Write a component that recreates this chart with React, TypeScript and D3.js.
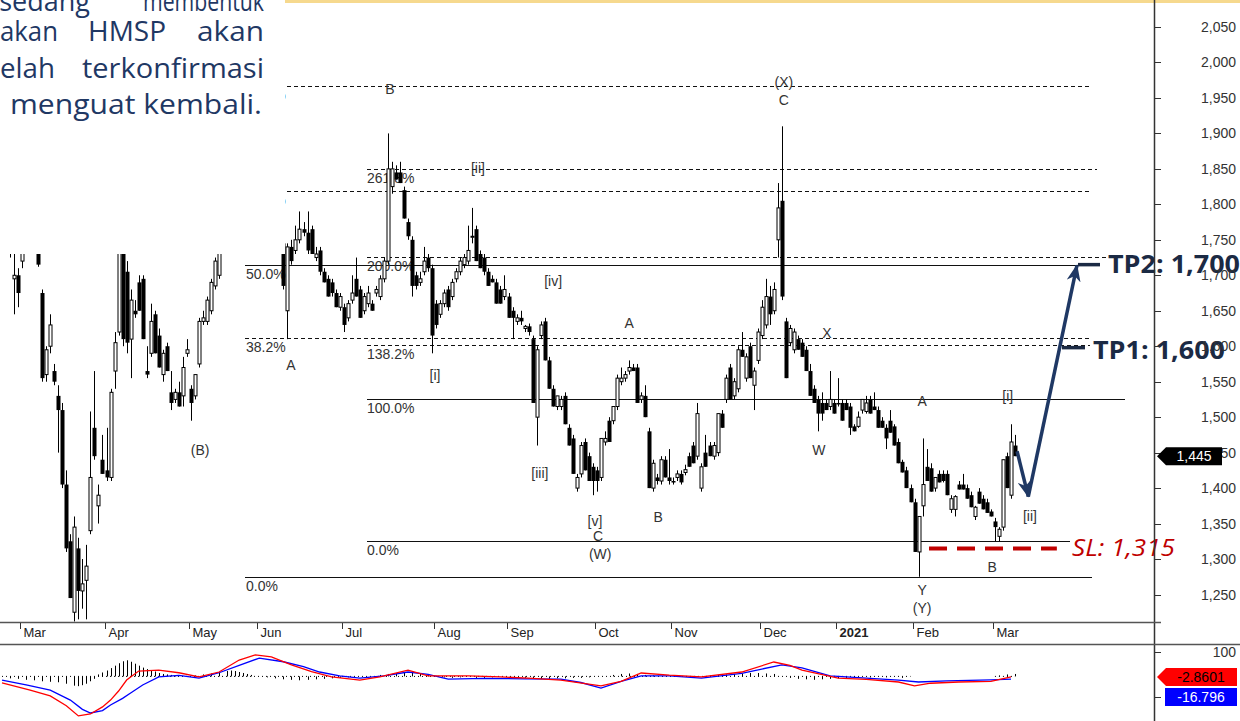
import React from 'react';
import * as d3 from 'd3';

type Bar = [number, number, number, number]; // open, high, low, close

// daily candles, one array per month (first five are the last days of Feb 2020)
const feb20: Bar[] = [
  [1785,1805,1755,1770],[1770,1790,1745,1750],[1750,1780,1725,1765],[1695,1740,1645,1700],[1700,1710,1655,1675],
];
const mar20: Bar[] = [
  [1720,1760,1710,1750],[1750,1790,1740,1780],[1780,1800,1745,1755],[1755,1775,1735,1745],[1745,1750,1712,1715],
  [1675,1680,1550,1555],[1560,1600,1550,1595],[1600,1645,1590,1630],[1565,1575,1545,1550],[1530,1545,1450,1510],
  [1510,1520,1400,1405],[1405,1425,1310,1315],[1325,1335,1245,1245],[1225,1360,1212,1345],[1315,1330,1215,1255],
  [1255,1300,1230,1265],[1270,1320,1215,1290],[1340,1508,1335,1415],[1485,1565,1440,1445],[1375,1405,1350,1390],
  [1440,1475,1420,1420],
];
const apr20: Bar[] = [
  [1425,1485,1410,1415],[1415,1540,1410,1535],[1565,1620,1540,1605],[1620,1760,1615,1740],[1740,1770,1600,1610],
  [1705,1720,1590,1605],[1610,1680,1555,1665],[1650,1665,1640,1645],[1690,1700,1650,1650],[1695,1700,1610,1610],
  [1565,1600,1555,1560],[1590,1660,1585,1635],[1645,1650,1590,1590],[1615,1625,1570,1570],[1560,1595,1550,1590],
  [1600,1605,1565,1565],[1535,1565,1510,1520],[1525,1540,1520,1535],[1535,1550,1515,1515],[1530,1585,1515,1570],
  [1590,1610,1585,1595],
];
const may20: Bar[] = [
  [1540,1545,1495,1520],[1530,1560,1525,1560],[1575,1640,1570,1635],[1635,1650,1630,1640],[1635,1670,1630,1665],
  [1650,1695,1645,1690],[1685,1725,1680,1720],[1700,1745,1695,1740],[1740,1770,1735,1760],[1760,1790,1750,1785],
  [1785,1820,1770,1810],[1810,1840,1795,1800],[1800,1830,1780,1825],[1825,1850,1800,1815],[1815,1835,1790,1795],
  [1795,1825,1780,1820],[1820,1860,1810,1845],
];
const jun20: Bar[] = [
  [1845,1870,1815,1825],[1825,1840,1790,1800],[1800,1820,1775,1810],[1810,1830,1780,1790],[1790,1805,1760,1770],
  [1770,1790,1750,1760],[1745,1750,1680,1685],[1650,1745,1610,1740],[1740,1750,1715,1720],[1735,1770,1730,1750],
  [1750,1790,1745,1765],[1765,1775,1755,1760],[1760,1790,1730,1735],[1765,1770,1730,1730],[1725,1740,1720,1730],
  [1735,1740,1700,1705],[1705,1710,1690,1690],[1695,1700,1670,1670],[1690,1695,1670,1675],[1675,1680,1655,1655],
  [1655,1675,1650,1670],
];
const jul20: Bar[] = [
  [1655,1660,1620,1630],[1640,1665,1635,1660],[1665,1700,1660,1675],[1695,1725,1670,1670],[1680,1685,1640,1640],
  [1650,1675,1645,1670],[1660,1685,1655,1675],[1660,1665,1650,1650],[1675,1685,1670,1680],[1670,1700,1665,1695],
  [1695,1725,1690,1720],[1720,1900,1715,1850],[1825,1860,1815,1850],[1845,1855,1835,1835],[1845,1860,1830,1830],
  [1820,1825,1780,1780],[1775,1780,1750,1755],[1750,1755,1670,1685],[1700,1705,1680,1685],[1690,1705,1685,1695],
  [1705,1740,1700,1720],[1725,1730,1705,1710],[1710,1715,1590,1615],
];
const aug20: Bar[] = [
  [1660,1665,1625,1630],[1645,1665,1640,1660],[1660,1680,1655,1675],[1680,1685,1650,1655],[1670,1695,1665,1690],
  [1695,1710,1690,1705],[1705,1725,1700,1720],[1715,1730,1710,1725],[1720,1770,1715,1735],[1755,1795,1745,1755],
  [1765,1770,1720,1720],[1730,1735,1710,1710],[1725,1730,1700,1705],[1705,1710,1685,1685],[1695,1700,1690,1690],
  [1690,1695,1660,1660],[1680,1685,1660,1660],[1670,1700,1665,1680],
];
const sep20: Bar[] = [
  [1670,1675,1640,1640],[1650,1655,1610,1640],[1635,1645,1630,1640],[1640,1650,1630,1635],[1625,1630,1620,1628],
  [1628,1632,1615,1620],[1610,1615,1520,1520],[1500,1600,1460,1595],[1615,1635,1610,1630],[1635,1640,1580,1580],
  [1580,1585,1540,1540],[1540,1545,1515,1515],[1515,1530,1510,1530],[1515,1530,1510,1525],[1530,1535,1490,1490],
  [1485,1490,1460,1460],[1470,1475,1420,1420],[1400,1420,1395,1415],[1420,1465,1415,1460],[1465,1470,1425,1425],
  [1445,1450,1410,1410],[1430,1435,1390,1410],
];
const oct20: Bar[] = [
  [1425,1430,1395,1410],[1415,1470,1410,1470],[1465,1480,1460,1470],[1495,1500,1465,1465],[1495,1515,1490,1515],
  [1515,1560,1510,1555],[1550,1570,1545,1555],[1555,1565,1550,1560],[1565,1580,1560,1570],[1570,1575,1565,1565],
  [1570,1575,1520,1520],[1525,1535,1520,1530],[1530,1545,1500,1500],[1480,1485,1400,1400],[1400,1440,1395,1435],
  [1415,1420,1405,1410],[1410,1445,1405,1440],[1440,1445,1415,1415],[1415,1455,1405,1410],
];
const nov20: Bar[] = [
  [1410,1415,1405,1408],[1415,1425,1410,1420],[1420,1425,1405,1408],[1422,1433,1418,1426],[1445,1450,1430,1430],
  [1460,1465,1435,1435],[1445,1520,1440,1505],[1400,1435,1395,1430],[1450,1475,1430,1430],[1460,1465,1445,1445],
  [1445,1465,1440,1460],[1450,1505,1445,1505],[1505,1510,1485,1485],[1525,1560,1520,1555],[1570,1575,1525,1525],
  [1530,1555,1525,1550],[1540,1600,1535,1595],[1595,1620,1585,1585],[1555,1590,1550,1585],[1600,1605,1555,1555],
  [1545,1570,1510,1565],[1580,1625,1575,1620],
];
const dec20: Bar[] = [
  [1615,1665,1610,1655],[1630,1695,1625,1670],[1670,1685,1630,1645],[1650,1690,1645,1680],[1750,1830,1725,1795],
  [1805,1910,1665,1670],[1635,1640,1555,1555],[1605,1630,1600,1625],[1595,1625,1590,1620],[1610,1615,1595,1595],
  [1605,1610,1585,1585],[1595,1600,1565,1565],[1565,1575,1530,1530],[1540,1545,1520,1520],[1525,1530,1480,1505],
  [1520,1535,1495,1505],[1520,1525,1510,1510],[1515,1565,1510,1525],[1520,1525,1505,1505],
];
const jan21: Bar[] = [
  [1520,1555,1515,1518],[1520,1525,1495,1495],[1520,1525,1510,1510],[1515,1520,1475,1485],[1487,1490,1480,1480],
  [1487,1508,1485,1500],[1510,1525,1505,1525],[1508,1530,1505,1520],[1525,1530,1505,1505],[1515,1535,1510,1510],
  [1510,1515,1485,1485],[1495,1500,1485,1485],[1485,1490,1455,1470],[1495,1510,1478,1478],[1487,1490,1460,1460],
  [1465,1470,1435,1435],[1437,1440,1422,1422],[1425,1430,1400,1400],[1400,1405,1380,1380],
];
const feb21: Bar[] = [
  [1380,1385,1310,1310],[1310,1360,1275,1360],[1375,1470,1360,1405],[1430,1455,1410,1410],[1428,1435,1395,1395],
  [1400,1415,1395,1415],[1420,1425,1408,1408],[1420,1425,1408,1410],[1420,1425,1390,1390],[1370,1390,1365,1385],
  [1370,1390,1360,1388],[1405,1410,1398,1398],[1405,1420,1398,1398],[1400,1405,1385,1385],[1390,1395,1373,1373],
  [1360,1375,1355,1373],[1395,1400,1378,1378],[1385,1390,1370,1370],[1380,1385,1365,1365],[1367,1370,1360,1360],
];
const mar21: Bar[] = [
  [1353,1358,1325,1345],[1332,1345,1325,1342],[1345,1440,1340,1440],[1445,1450,1400,1400],[1390,1490,1385,1465],
  [1460,1475,1445,1445],
];

const monthBlocks = [feb20, mar20, apr20, may20, jun20, jul20, aug20, sep20, oct20, nov20, dec20, jan21, feb21, mar21];
const monthLabels = ['Mar', 'Apr', 'May', 'Jun', 'Jul', 'Aug', 'Sep', 'Oct', 'Nov', 'Dec', '2021', 'Feb', 'Mar'];

// lower panel: [candle index, value]
const macdPts = [
  [0,-27],[7,-56],[12,-80],[16,-120],[19,-162],[22,-154],[25,-125],[27,-97],[29,-60],[31,-15],
  [34,22],[39,26],[44,15],[49,-2],[54,18],[59,67],[63,88],[67,80],[72,47],[77,20],
  [82,-2],[89,-15],[94,-2],[101,26],[106,2],[116,2],[124,-2],[132,-8],[139,-15],[149,-39],
  [154,-20],[159,14],[166,5],[174,-2],[184,18],[192,59],[196,45],[199,26],[208,-7],[215,-12],
  [223,-23],[227,-39],[231,-28],[238,-23],[246,-20],[251,-2],
];
const signalPts = [
  [0,-15],[6,-35],[12,-56],[17,-97],[20,-135],[22,-150],[25,-140],[27,-117],[30,-90],[32,-68],
  [35,-35],[39,-2],[44,4],[49,-7],[54,15],[59,45],[64,75],[70,60],[75,40],[79,18],
  [84,2],[89,-7],[95,2],[101,18],[106,8],[111,-11],[120,-8],[130,-10],[139,-11],[144,-25],
  [149,-48],[154,-20],[159,2],[166,2],[174,-7],[184,12],[189,30],[194,47],[199,35],[206,2],
  [213,-5],[223,-15],[228,-23],[235,-18],[246,-14],[251,-11],
];
const histPts = [
  [2,-8],[4,-10],[6,-14],[8,-16],[10,-20],[12,-22],[14,-24],[16,-30],[18,-38],[19,-40],[20,-36],[21,-30],[22,-20],[23,-10],
  [24,8],[25,16],[26,24],[27,34],[28,44],[29,54],[30,62],[31,66],[32,60],[33,52],[34,44],[35,36],[36,30],[37,24],
  [38,20],[39,14],[40,10],[41,8],[42,6],[43,4],
  [48,4],[50,8],[52,12],[54,16],[56,22],[57,24],[58,22],[59,18],[60,14],[61,10],[62,6],
  [66,-4],[68,-8],[70,-12],[72,-14],[74,-16],[76,-14],[78,-12],[80,-10],[82,-8],[84,-6],[86,-4],
  [94,6],[96,10],[98,14],[100,16],[102,14],[104,10],[106,6],
  [110,-4],[112,-6],[114,-4],[118,-6],[120,-6],[122,-4],
  [130,-6],[132,-8],[134,-10],[136,-10],[138,-8],[140,-8],[142,-6],[144,-6],[146,-4],
  [152,6],[154,10],[156,12],[158,10],[160,6],[162,4],
  [176,4],[178,6],[180,8],[182,10],[184,12],[186,14],[188,14],[190,12],[192,10],
  [196,-6],[198,-10],[200,-12],[202,-14],[204,-12],[206,-10],[208,-8],[210,-6],[212,-4],
  [216,-4],[220,-4],[224,-6],[248,4],[250,8],[252,10],
];

const priceTicks = d3.range(1250, 2051, 50);

// two fibonacci tools: price at 0% and at 100%
const fibA = { zero: 1274, full: 2156 };
const fibB = { zero: 1326, full: 1526 };
const fibALevels = [0, 38.2, 50, 61.8, 78.6];
const fibBLevels = [0, 100, 138.2, 200, 261.8];

const waveLabels: [string, number, number][] = [
  ['B', 96.5, 1963], ['(X)', 194.5, 1973], ['C', 194.5, 1947], ['[ii]', 118.4, 1851], ['[iv]', 137.1, 1692],
  ['A', 156, 1632], ['X', 205.2, 1619], ['A', 71.9, 1574], ['[i]', 107.7, 1559], ['[i]', 250.2, 1530],
  ['A', 228.9, 1523], ['(B)', 49.3, 1453], ['W', 203.2, 1454], ['[iii]', 133.8, 1421], ['[ii]', 255.7, 1360],
  ['B', 163.2, 1359], ['[v]', 147.5, 1354], ['C', 148.3, 1332], ['(W)', 148.8, 1307], ['B', 246.3, 1288],
  ['Y', 228.9, 1256], ['(Y)', 228.9, 1231],
];

const lastPrice = 1445;
const tp1 = 1600;
const tp2 = 1700;
const sl = 1315;
const arrowPts: [number, number][] = [[252.5, 1452], [255.3, 1388], [267.4, 1714]];

const font = "'Liberation Sans', Arial, sans-serif";
const navy = '#1f3864';

export default function App() {
  const candles = monthBlocks.flat() as Bar[];
  const starts: number[] = [];
  let acc = 0;
  monthBlocks.forEach((m) => { starts.push(acc); acc += m.length; });
  const N = candles.length;

  const step = 4.02;
  const x = d3.scaleLinear().domain([0, N - 1]).range([2, 2 + (N - 1) * step]);
  const y = d3.scaleLinear().domain([1250, 2050]).range([594.5, 27]);
  const yi = d3.scaleLinear().domain([-100, 100]).range([700.8, 652]);

  const fibPrice = (f: { zero: number; full: number }, lv: number) => f.zero + (f.full - f.zero) * lv / 100;
  const fibAStyle: Record<string, { dash: boolean; end: number }> = {
    '0': { dash: false, end: 1092 }, '38.2': { dash: true, end: 1090 }, '50': { dash: false, end: 1078 },
    '61.8': { dash: true, end: 1090 }, '78.6': { dash: true, end: 1090 },
  };
  const fibBStyle: Record<string, { dash: boolean; end: number }> = {
    '0': { dash: false, end: 1070 }, '100': { dash: false, end: 1125 }, '138.2': { dash: true, end: 1090 },
    '200': { dash: true, end: 1108 }, '261.8': { dash: true, end: 1097 },
  };

  const line = d3.line<number[]>().x((d) => x(d[0])).y((d) => yi(d[1]));

  const arrow1 = [arrowPts[0], arrowPts[1]].map((p) => [x(p[0]), y(p[1])]);
  const arrow2 = [arrowPts[1], arrowPts[2]].map((p) => [x(p[0]), y(p[1])]);

  return (
    <div style={{ position: 'absolute', left: 0, top: 0 }}>
      <svg width={1240} height={721} style={{ display: 'block', background: '#fff' }}>
        <defs>
          <marker id="ah" markerUnits="userSpaceOnUse" markerWidth={18} markerHeight={14} refX={16} refY={7} orient="auto">
            <path d="M0,0 L17,7 L0,14 L5,7 Z" fill={navy} />
          </marker>
        </defs>

        <line x1={285} x2={1240} y1={1.5} y2={1.5} stroke="#f6d98e" strokeWidth={3} />

        {/* fib lines */}
        {fibALevels.map((lv) => {
          const st = fibAStyle[String(lv)];
          const yy = Math.round(y(fibPrice(fibA, lv))) + 0.5;
          return (
            <g key={'a' + lv}>
              <line x1={245} x2={st.end} y1={yy} y2={yy} stroke="#111" strokeWidth={1} strokeDasharray={st.dash ? '4 3' : undefined} />
              <text x={246} y={yy + 13} fontFamily={font} fontSize={14} fill="#333">{lv.toFixed(1)}%</text>
            </g>
          );
        })}
        {fibBLevels.map((lv) => {
          const st = fibBStyle[String(lv)];
          const yy = Math.round(y(fibPrice(fibB, lv))) + 0.5;
          return (
            <g key={'b' + lv}>
              <line x1={367} x2={st.end} y1={yy} y2={yy} stroke="#111" strokeWidth={1} strokeDasharray={st.dash ? '4 3' : undefined} />
              <text x={367} y={yy + 13} fontFamily={font} fontSize={14} fill="#333">{lv.toFixed(1)}%</text>
            </g>
          );
        })}

        {waveLabels.map(([t, i, p], k) => (
          <text key={k} x={x(i)} y={y(p)} dy="0.35em" textAnchor="middle" fontFamily={font} fontSize={14} fill="#333">{t}</text>
        ))}

        {/* candles */}
        {candles.map((c, i) => {
          const [o, h, l, cl] = c;
          const cx = Math.round(x(i)) + 0.5;
          const up = cl >= o;
          const top = y(Math.max(o, cl));
          const bot = y(Math.min(o, cl));
          return (
            <g key={i}>
              <line x1={cx} x2={cx} y1={y(h)} y2={y(l)} stroke="#000" strokeWidth={1} />
              {up ? (
                <rect x={cx - 1.5} y={top} width={3} height={Math.max(1, bot - top)} fill="#fff" stroke="#000" strokeWidth={1} />
              ) : (
                <rect x={cx - 2} y={top} width={4} height={Math.max(1.5, bot - top)} fill="#000" />
              )}
            </g>
          );
        })}

        {/* text box */}
        <rect x={0} y={0} width={285} height={254} fill="#fff" />
        <g fontFamily="'Open Sans', 'Noto Sans', sans-serif" fontSize={27} fill={navy}>
          <text x={90} y={11} textAnchor="end">sedang</text>
          <text x={143} y={11} textLength={121} lengthAdjust="spacingAndGlyphs">membentuk</text>
          <text x={0} y={41} textLength={58} lengthAdjust="spacingAndGlyphs">akan</text>
          <text x={88} y={41} textLength={78} lengthAdjust="spacingAndGlyphs">HMSP</text>
          <text x={197} y={41} textLength={67} lengthAdjust="spacingAndGlyphs">akan</text>
          <text x={0} y={78} textLength={55} lengthAdjust="spacingAndGlyphs">elah</text>
          <text x={82} y={78} textLength={182} lengthAdjust="spacingAndGlyphs">terkonfirmasi</text>
          <text x={10} y={114} textLength={252} lengthAdjust="spacingAndGlyphs">menguat kembali.</text>
        </g>

        {/* trade plan */}
        <line x1={x(230.6)} x2={x(262.4)} y1={y(sl)} y2={y(sl)} stroke="#c00000" strokeWidth={4} strokeDasharray="18 10" />
        <text x={1072} y={y(sl) + 8} fontFamily="'Open Sans', 'Noto Sans', sans-serif" fontStyle="italic" fontSize={24}
          fill="#c00000" textLength={103} lengthAdjust="spacingAndGlyphs">SL: 1,315</text>
        <line x1={1078} x2={1100} y1={y(1715)} y2={y(1715)} stroke="#1b2a44" strokeWidth={3.5} />
        <text x={1108} y={y(tp2) - 2} fontFamily="'Open Sans', 'Noto Sans', sans-serif" fontWeight={700} fontSize={25}
          fill="#1b2a44" textLength={132} lengthAdjust="spacingAndGlyphs">TP2: 1,700</text>
        <line x1={1062} x2={1085} y1={y(1598)} y2={y(1598)} stroke="#1b2a44" strokeWidth={3.5} />
        <text x={1093} y={y(tp1) + 13} fontFamily="'Open Sans', 'Noto Sans', sans-serif" fontWeight={700} fontSize={25}
          fill="#1b2a44" textLength={132} lengthAdjust="spacingAndGlyphs">TP1: 1,600</text>
        <path d={`M${arrow1[0][0]},${arrow1[0][1]} L${arrow1[1][0]},${arrow1[1][1]}`} stroke={navy} strokeWidth={3.5} fill="none" markerEnd="url(#ah)" />
        <path d={`M${arrow2[0][0]},${arrow2[0][1]} L${arrow2[1][0]},${arrow2[1][1]}`} stroke={navy} strokeWidth={3.5} fill="none" markerEnd="url(#ah)" />

        {/* price axis */}
        <line x1={1154.5} x2={1154.5} y1={0} y2={721} stroke="#333" strokeWidth={1.5} />
        {priceTicks.map((p) => (
          <g key={p}>
            <line x1={1155} x2={1161} y1={Math.round(y(p)) + 0.5} y2={Math.round(y(p)) + 0.5} stroke="#333" />
            <text x={1236} y={y(p) + 5} textAnchor="end" fontFamily={font} fontSize={14} fill="#333">{d3.format(',')(p)}</text>
          </g>
        ))}
        <path d={`M1157,${y(lastPrice)} L1166,${y(lastPrice) - 9} H1222 V${y(lastPrice) + 9} H1166 Z`} fill="#000" />
        <text x={1194} y={y(lastPrice) + 5} textAnchor="middle" fontFamily={font} fontSize={14} fill="#fff">{d3.format(',')(lastPrice)}</text>

        {/* month band */}
        <line x1={0} x2={1161} y1={622.5} y2={622.5} stroke="#555" strokeWidth={1.5} />
        <line x1={0} x2={1240} y1={644.5} y2={644.5} stroke="#555" strokeWidth={1.5} />
        {monthLabels.map((m, k) => {
          const tx = Math.round(x(starts[k + 1]) - step / 2) + 0.5;
          return (
            <g key={k}>
              <line x1={tx} x2={tx} y1={623} y2={629} stroke="#333" />
              <text x={tx + 3} y={637} fontFamily={font} fontSize={13} fontWeight={m === '2021' ? 700 : 400} fill="#222">{m}</text>
            </g>
          );
        })}

        {/* lower panel */}
        <line x1={x(0)} x2={x(226)} y1={yi(0)} y2={yi(0)} stroke="#000" strokeDasharray="1 3" />
        <line x1={x(247)} x2={x(252)} y1={yi(0)} y2={yi(0)} stroke="#000" strokeDasharray="1 3" />
        {histPts.map(([i, v]) => (
          <line key={i} x1={Math.round(x(i)) + 0.5} x2={Math.round(x(i)) + 0.5} y1={yi(0)} y2={yi(v)} stroke="#000" strokeWidth={1} />
        ))}
        <path d={line(signalPts) || ''} fill="none" stroke="#0000ff" strokeWidth={1.3} />
        <path d={line(macdPts) || ''} fill="none" stroke="#ff0000" strokeWidth={1.3} />
        <line x1={1155} x2={1161} y1={652.5} y2={652.5} stroke="#333" />
        <line x1={1155} x2={1161} y1={697.5} y2={697.5} stroke="#333" />
        <text x={1236} y={657} textAnchor="end" fontFamily={font} fontSize={14} fill="#333">100</text>
        <path d="M1157,677 L1166,668 H1237 V686 H1166 Z" fill="#ff0000" />
        <text x={1201} y={682} textAnchor="middle" fontFamily={font} fontSize={14} fill="#000">-2.8601</text>
        <rect x={1165} y={688} width={72} height={18} fill="#0000ff" />
        <text x={1201} y={702} textAnchor="middle" fontFamily={font} fontSize={14} fill="#fff">-16.796</text>
      </svg>
    </div>
  );
}
